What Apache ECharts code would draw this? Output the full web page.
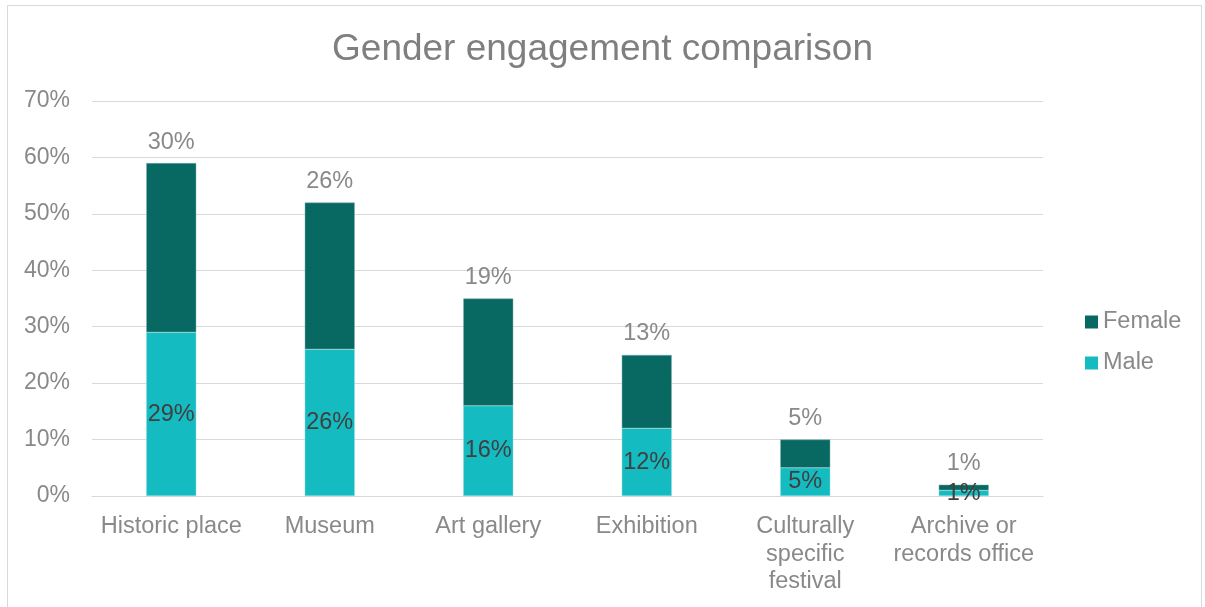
<!DOCTYPE html>
<html>
<head>
<meta charset="utf-8">
<title>Gender engagement comparison</title>
<script src="https://cdn.jsdelivr.net/npm/echarts@6/dist/echarts.min.js"></script>
<style>
  html, body { margin: 0; padding: 0; background: #ffffff; }
  #frame { position: absolute; left: 7px; top: 5px; width: 1195px; height: 610px; border: 1px solid #d9d9d9; box-sizing: border-box; }
  #chart { position: absolute; left: 0; top: 0; width: 1205px; height: 607px; }
</style>
</head>
<body>
<div id="frame"></div>
<div id="chart"></div>
<script>
// Venue categories along the x axis
const categories = [
  'Historic place',
  'Museum',
  'Art gallery',
  'Exhibition',
  'Culturally\nspecific\nfestival',
  'Archive or\nrecords office'
];

// Share of respondents (%) by gender
const maleValues = [29, 26, 16, 12, 5, 1];
const femaleValues = [30, 26, 19, 13, 5, 1];

// Value axis ticks (%)
const yTicks = [0, 10, 20, 30, 40, 50, 60, 70];

const FONT = '"Liberation Sans", Arial, sans-serif';
const GRAY = '#898989';
const SIZE = 23.5;

const chart = echarts.init(document.getElementById('chart'), null, { renderer: 'canvas' });

chart.setOption({
  animation: false,
  textStyle: { fontFamily: FONT },
  title: {
    text: 'Gender engagement comparison',
    left: 'center',
    top: 26,
    textStyle: { fontFamily: FONT, fontSize: 37, fontWeight: 'normal', color: '#7f7f7f' }
  },
  legend: {
    data: ['Female', 'Male'],
    orient: 'vertical',
    left: 1085,
    top: 310,
    padding: 0,
    itemWidth: 13,
    itemHeight: 13,
    itemGap: 17,
    icon: 'rect',
    itemStyle: { borderWidth: 0 },
    textStyle: { fontFamily: FONT, fontSize: SIZE, lineHeight: 24, color: GRAY }
  },
  grid: { left: 92, right: 162, top: 101, bottom: 111, containLabel: false },
  xAxis: {
    type: 'category',
    data: categories,
    axisLine: { lineStyle: { color: '#d9d9d9', width: 1 } },
    axisTick: { show: false },
    axisLabel: { fontFamily: FONT, fontSize: SIZE, color: GRAY, lineHeight: 27.5, margin: 17, interval: 0 }
  },
  yAxis: {
    type: 'value',
    min: yTicks[0],
    max: yTicks[yTicks.length - 1],
    interval: yTicks[1] - yTicks[0],
    axisLine: { show: false },
    axisTick: { show: false },
    splitLine: { lineStyle: { color: '#d9d9d9', width: 1 } },
    axisLabel: { fontFamily: FONT, fontSize: 23, color: GRAY, margin: 22, formatter: v => v + '%' }
  },
  series: [
    {
      name: 'Male',
      type: 'bar',
      stack: 'gender',
      barWidth: 50,
      data: maleValues,
      itemStyle: { color: '#14bbc1', borderColor: '#8fdde0', borderWidth: 0.5 },
      label: {
        show: true,
        position: 'inside',
        formatter: p => p.value + '%',
        fontFamily: FONT,
        fontSize: SIZE,
        color: '#404040'
      }
    },
    {
      name: 'Female',
      type: 'bar',
      stack: 'gender',
      barWidth: 50,
      data: femaleValues,
      itemStyle: { color: '#086862', borderColor: '#7fb3b0', borderWidth: 0.5 },
      label: {
        show: true,
        position: 'top',
        distance: 9,
        formatter: p => p.value + '%',
        fontFamily: FONT,
        fontSize: SIZE,
        color: GRAY
      }
    }
  ]
});
</script>
</body>
</html>
